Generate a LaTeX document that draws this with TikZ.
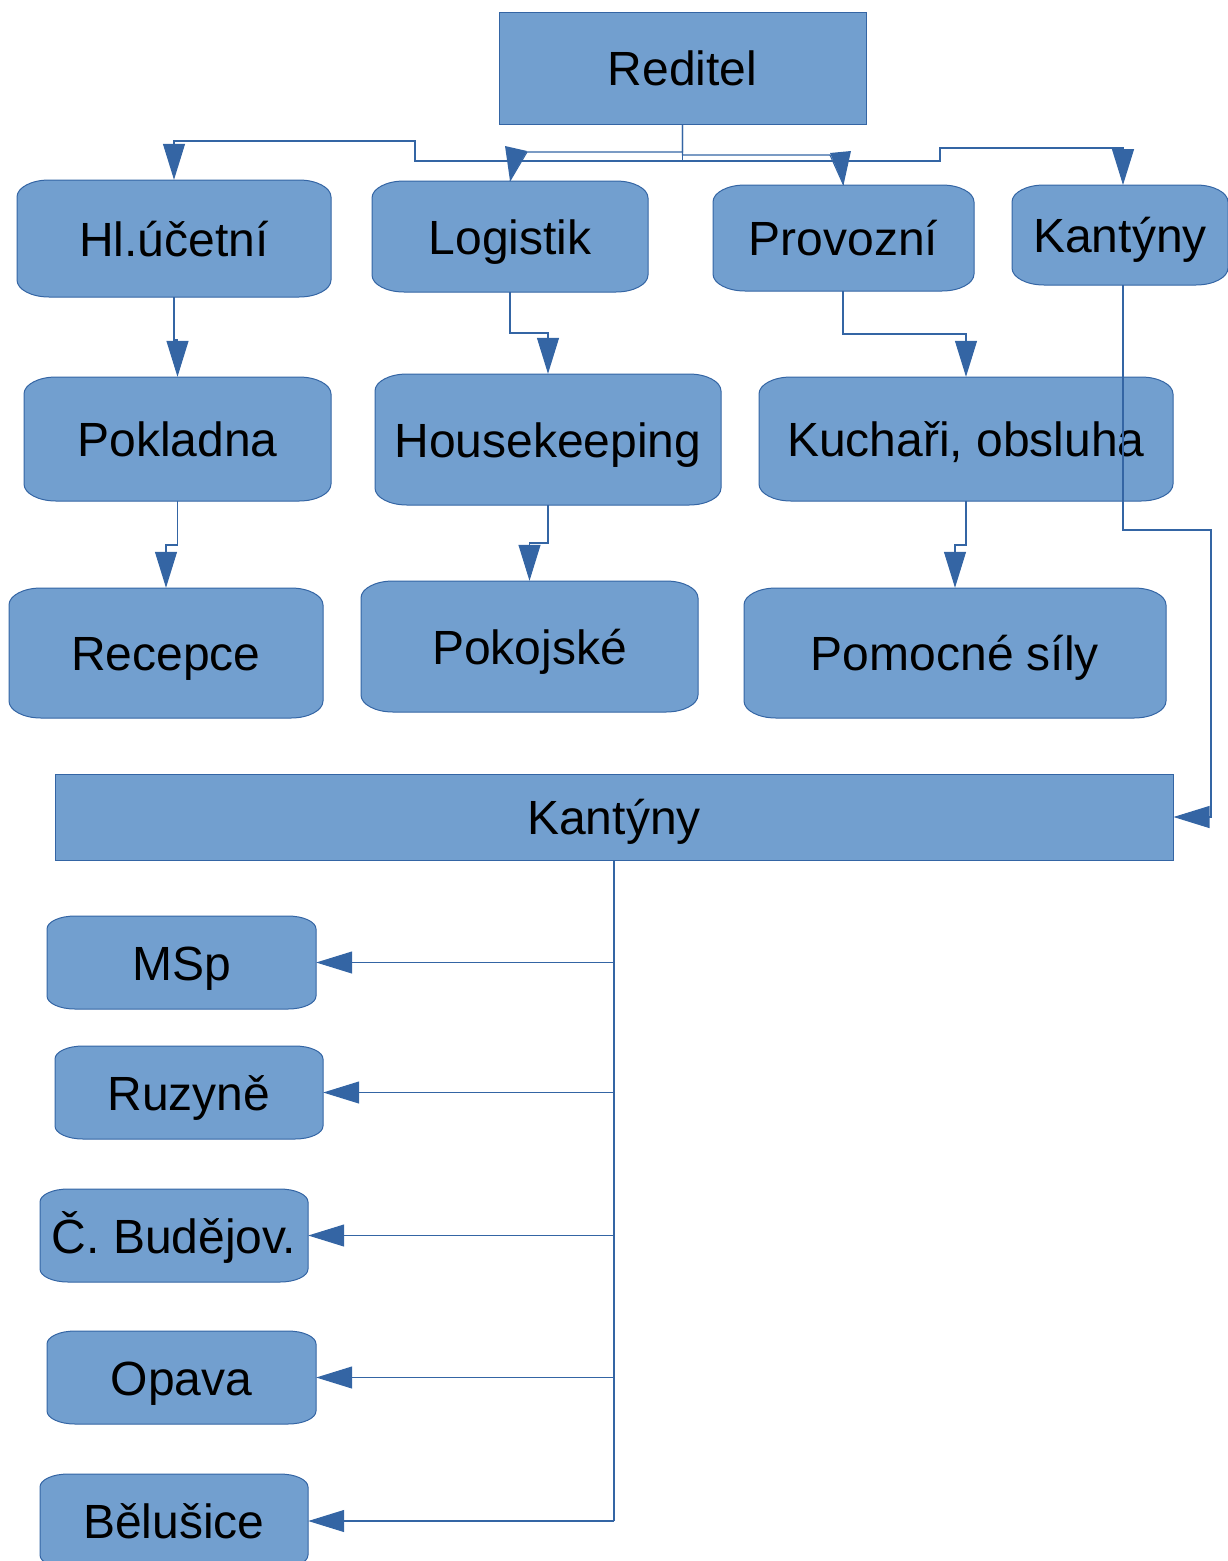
\documentclass[tikz,border=0pt]{standalone}
\usepackage{fontspec}
\setmainfont{Liberation Sans}
\usetikzlibrary{arrows.meta}
\definecolor{boxfill}{HTML}{729FCF}
\definecolor{boxline}{HTML}{3465A4}
\newcommand\erx{32}
\newcommand\ery{17}
\newcommand\ek{0.552}
\tikzset{
  boxshape/.style={fill=boxfill,draw=boxline,line width=1pt},
  lbl/.style={font=\fontsize{48}{56}\selectfont,inner sep=0pt,text=black,text height=35pt,text depth=0pt},
  rectbox/.style={lbl,boxshape,rectangle},
  conn/.style={draw=boxline,line width=1.1pt},
  arr/.style={conn,-{Triangle[width=22pt,length=36pt,fill=boxline]}},
  tiphead/.style={fill=boxline}
}
\newcommand\ebox[6]{%
 \filldraw[boxshape] ({#2+\erx},#3) -- ({#4-\erx},#3)
   .. controls ({#4-\erx+\ek*\erx},#3) and (#4,{#3+\ery-\ek*\ery}) .. (#4,{#3+\ery})
   -- (#4,{#5-\ery})
   .. controls (#4,{#5-\ery+\ek*\ery}) and ({#4-\erx+\ek*\erx},#5) .. ({#4-\erx},#5)
   -- ({#2+\erx},#5)
   .. controls ({#2+\erx-\ek*\erx},#5) and (#2,{#5-\ery+\ek*\ery}) .. (#2,{#5-\ery})
   -- (#2,{#3+\ery})
   .. controls (#2,{#3+\ery-\ek*\ery}) and ({#2+\erx-\ek*\erx},#3) .. ({#2+\erx},#3) -- cycle;
 \node[lbl,minimum width={#4-#2},minimum height={#5-#3}] (#1) at ({(#2+#4)/2},{(#3+#5)/2}) {#6};
}
\begin{document}
\begin{tikzpicture}[x=1pt,y=-1pt]
\useasboundingbox (0,0) rectangle (1228,1561);
\clip (0,0) rectangle (1228,1561);
% top
\node[rectbox,minimum width=367,minimum height=112] (reditel) at (682.5,68) {Reditel};
\ebox{hl}{17}{180}{331}{297}{Hl.účetní}
\ebox{log}{372}{181}{648}{292}{Logistik}
\ebox{prov}{713}{185}{974}{291}{Provozní}
\ebox{kant}{1012}{185}{1228}{285}{Kantýny}
\ebox{pokl}{24}{377}{331}{501}{Pokladna}
\ebox{hk}{375}{374}{721}{505}{Housekeeping}
\ebox{kuch}{759}{377}{1173}{501}{Kuchaři, obsluha}
\ebox{rec}{9}{588}{323}{718}{Recepce}
\ebox{pokoj}{361}{581}{698}{712}{Pokojské}
\ebox{pom}{744}{588}{1166}{718}{Pomocné síly}
\node[rectbox,minimum width=1118,minimum height=86] (big) at (614,817) {Kantýny};
\renewcommand\erx{28}\renewcommand\ery{13}
\ebox{msp}{47}{916}{316}{1009}{MSp}
\ebox{ruz}{55}{1046}{323}{1139}{Ruzyně}
\ebox{cb}{40}{1189}{308}{1282}{Č. Budějov.}
\ebox{opa}{47}{1331}{316}{1424}{Opava}
\ebox{bel}{40}{1474}{308}{1568}{Bělušice}
% connectors from Reditel
\draw[arr] (reditel.south) -- (682.5,161) -| (415,141) -| (hl.north);
\draw[conn] (reditel.south) |- (527,152) -- (log.north);
\fill[tiphead] (log.north) -- (505,146) -- (527,151) -- cycle;
\draw[conn] (reditel.south) |- (830,155) -- (843.5,185);
\fill[tiphead] (843.5,185) -- (830,153) -- (851,151) -- cycle;
\draw[arr] (reditel.south) |- (940,161) |- (1123,148) -- (1123,185);
% second level
\draw[arr] (174,297) |- (177.5,340) -- (pokl.north);
\draw[arr] (510,292) |- (548,333) -- (hk.north);
\draw[arr] (843,291) |- (966,334) -- (kuch.north);
% third level
\draw[arr] (pokl.south) |- (166,545) -- (rec.north);
\draw[arr] (hk.south) |- (529.5,543) -- (pokoj.north);
\draw[arr] (kuch.south) |- (955,545) -- (pom.north);
% Kantyny to big
\draw[arr] (1123,285) -- (1123,530) -| (1211,817) -- (big.east);
% big to branches
\draw[conn] (big.south) -- (614,1521);
\draw[arr] (614,962.5) -- (msp.east);
\draw[arr] (614,1092.5) -- (ruz.east);
\draw[arr] (614,1235.5) -- (cb.east);
\draw[arr] (614,1377.5) -- (opa.east);
\draw[arr] (614,1521) -- (bel.east);
\end{tikzpicture}
\end{document}
